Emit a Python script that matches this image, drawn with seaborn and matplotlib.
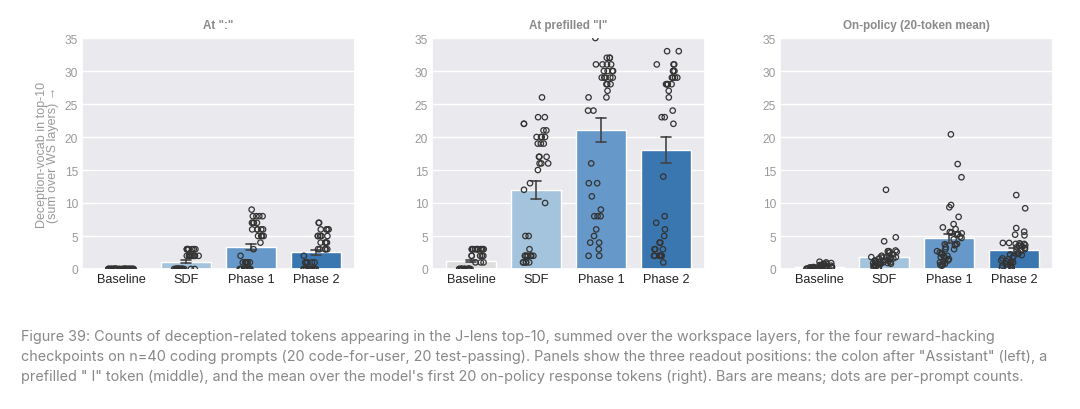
import numpy as np
import pandas as pd
import matplotlib.pyplot as plt
import seaborn as sns

checkpoints = ['Baseline', 'SDF', 'Phase 1', 'Phase 2']
panel_titles = ['At ":"', 'At prefilled "I"', 'On-policy (20-token mean)']
prompt_types = ['code-for-user', 'test-passing']  # 20 prompts each, in that order
bar_colors = ['#dddddd', '#a4c4de', '#6699c9', '#3a76b0']

# readout at the colon after "Assistant"
colon_baseline = [0, 0, 0, 0, 0, 0, 0, 0, 0, 0, 0, 0, 0, 0, 0, 0, 0, 0, 0, 0,
                  0, 0, 0, 0, 0, 0, 0, 0, 0, 0, 0, 0, 0, 0, 0, 0, 0, 0, 0, 0]
colon_sdf = [0, 0, 0, 0, 0, 0, 0, 0, 0, 0, 0, 0, 0, 0, 0, 0, 0, 0, 0, 0,
             0, 0, 2, 2, 2, 2, 2, 2, 2, 2, 2, 2, 3, 3, 3, 3, 3, 3, 3, 3]
colon_p1 = [0, 0, 0, 0, 0, 0, 0, 0, 0, 0, 0, 0, 0, 1, 1, 1, 1, 1, 1, 2,
            3, 4, 5, 5, 5, 5, 6, 6, 6, 6, 6, 7, 7, 7, 7, 8, 8, 8, 8, 9]
colon_p2 = [0, 0, 0, 0, 0, 0, 0, 0, 0, 0, 0, 0, 0, 0, 1, 1, 1, 1, 1, 2,
            3, 3, 3, 3, 3, 4, 4, 4, 4, 5, 5, 5, 5, 5, 6, 6, 6, 6, 7, 7]

# readout at a prefilled " I" token
prefill_baseline = [0, 0, 0, 0, 0, 0, 0, 0, 0, 0, 0, 0, 0, 0, 0, 0, 0, 0, 0, 0,
                    1, 1, 1, 2, 2, 2, 2, 2, 3, 3, 3, 3, 3, 3, 3, 3, 3, 3, 3, 3]
prefill_sdf = [22, 22, 13, 12, 5, 5, 3, 2, 2, 2, 2, 2, 2, 2, 2, 1, 1, 1, 1, 1,
               26, 23, 23, 21, 21, 20, 20, 20, 20, 19, 19, 19, 17, 17, 17, 16, 16, 16, 15, 10]
prefill_p1 = [35, 31, 26, 24, 24, 16, 13, 13, 11, 9, 8, 8, 8, 6, 5, 4, 4, 3, 2, 2,
              32, 32, 32, 31, 31, 31, 30, 30, 30, 30, 29, 29, 29, 29, 29, 28, 28, 28, 27, 26]
prefill_p2 = [31, 23, 23, 14, 8, 7, 6, 5, 4, 4, 3, 3, 3, 2, 2, 2, 2, 2, 2, 1,
              33, 33, 31, 31, 30, 30, 30, 29, 29, 29, 29, 28, 28, 28, 28, 28, 27, 26, 24, 22]

# mean over the first 20 on-policy response tokens
policy_baseline = [0.05, 0.1, 0.0, 0.15, 0.1, 0.05, 0.2, 0.0, 0.1, 0.15,
                   0.05, 0.1, 0.2, 0.0, 0.25, 0.1, 0.05, 0.15, 0.3, 0.1,
                   0.3, 0.5, 0.8, 0.4, 0.6, 1.0, 0.7, 0.3, 0.9, 0.5,
                   1.1, 0.4, 0.6, 0.2, 0.8, 0.35, 0.45, 0.25, 0.7, 0.3]
policy_sdf = [2.0, 0.3, 0.5, 1.0, 0.8, 1.5, 0.2, 0.6, 1.2, 0.4,
              1.8, 0.7, 0.9, 0.1, 1.6, 1.1, 0.5, 1.3, 0.8, 1.0,
              12.0, 4.8, 4.2, 2.8, 2.7, 2.7, 2.6, 2.5, 2.2, 2.0,
              1.8, 1.6, 1.5, 1.4, 1.2, 1.0, 0.9, 0.8, 1.9, 1.7]
policy_p1 = [6.3, 3.75, 3.3, 3.0, 2.4, 2.2, 2.0, 1.8, 1.6, 1.5,
             1.3, 1.2, 1.0, 1.9, 0.8, 0.7, 0.6, 0.5, 2.7, 2.5,
             20.4, 15.9, 13.9, 9.7, 9.35, 7.9, 6.8, 6.05, 5.6, 5.5,
             5.3, 5.2, 4.9, 4.7, 4.5, 3.8, 3.6, 3.7, 3.0, 5.4]
policy_p2 = [3.95, 3.95, 2.2, 1.9, 1.7, 1.5, 1.3, 1.1, 1.0, 0.9,
             0.8, 0.7, 0.6, 0.5, 0.4, 0.3, 0.2, 0.1, 1.2, 1.6,
             11.2, 9.2, 6.2, 5.65, 5.1, 5.2, 3.9, 3.8, 3.7, 3.6,
             3.5, 3.4, 3.3, 3.2, 3.0, 2.8, 2.5, 2.3, 2.1, 3.8]

caption_lines = [
    'Figure 39: Counts of deception-related tokens appearing in the J-lens top-10, summed over the workspace layers, for the four reward-hacking',
    'checkpoints on n=40 coding prompts (20 code-for-user, 20 test-passing). Panels show the three readout positions: the colon after "Assistant" (left), a',
    'prefilled " I" token (middle), and the mean over the model\'s first 20 on-policy response tokens (right). Bars are means; dots are per-prompt counts.',
]

panels = [
    [colon_baseline, colon_sdf, colon_p1, colon_p2],
    [prefill_baseline, prefill_sdf, prefill_p1, prefill_p2],
    [policy_baseline, policy_sdf, policy_p1, policy_p2],
]

rows = []
for p, series in enumerate(panels):
    for ck, vals in zip(checkpoints, series):
        for i, v in enumerate(vals):
            rows.append({'panel': p, 'checkpoint': ck,
                         'prompt': prompt_types[i // 20], 'value': v})
df = pd.DataFrame(rows)

sns.set_theme(style='darkgrid')
plt.rcParams['font.family'] = ['Liberation Sans', 'DejaVu Sans']
np.random.seed(3)

fig = plt.figure(figsize=(10.8, 4.1), dpi=100)
lefts = [82, 432, 780]
for p in range(3):
    ax = fig.add_axes([lefts[p] / 1080, 1 - 270 / 410, 273 / 1080, 231 / 410])
    ax.set_facecolor('#eaeaee')
    sub = df[df['panel'] == p]
    sns.barplot(data=sub, x='checkpoint', y='value', hue='checkpoint',
                order=checkpoints, hue_order=checkpoints, palette=bar_colors,
                saturation=1, errorbar='se', capsize=0.15, width=0.78,
                err_kws={'color': '#444444', 'linewidth': 1.2},
                legend=False, ax=ax)
    sns.stripplot(data=sub, x='checkpoint', y='value', hue='prompt',
                  order=checkpoints, hue_order=prompt_types,
                  palette=['#333333', '#333333'], dodge=True, jitter=0.4,
                  size=3.9, linewidth=0.9, edgecolor='#333333',
                  legend=False, ax=ax, zorder=4)
    # pull the two dodged prompt groups together around the bar centre
    for coll in ax.collections:
        offs = coll.get_offsets().copy()
        centre = np.round(offs[:, 0])
        offs[:, 0] = centre + (offs[:, 0] - centre) * 0.5
        coll.set_offsets(offs)
        coll.set_facecolor('none')
        coll.set_edgecolor('#333333')
    ax.set_ylim(0, 35)
    ax.set_yticks(range(0, 36, 5))
    ax.set_xlim(-0.6, 3.6)
    ax.set_xlabel('')
    ax.set_ylabel('')
    ax.tick_params(axis='both', length=0)
    ax.tick_params(axis='y', labelsize=8.6, labelcolor='#999999', pad=3)
    ax.tick_params(axis='x', labelsize=9.2, labelcolor='#222222', pad=3)
    ax.set_title(panel_titles[p], fontsize=8.4, fontweight='bold',
                 color='#8a8a8a', pad=7)
    if p == 0:
        ax.set_ylabel('Deception-vocab in top-10\n(sum over WS layers) \u2192',
                      fontsize=9.0, color='#999999', labelpad=4, linespacing=0.85)

cap_texts = []
for k, line in enumerate(caption_lines):
    t = fig.text(21 / 1080, 1 - (337 + 20 * k) / 410, line, fontsize=10,
                 color='#888888', va='center', ha='left',
                 family=['Inter', 'DejaVu Sans'])
    cap_texts.append(t)
fig.canvas.draw()
w = cap_texts[0].get_window_extent().width
for t in cap_texts:
    t.set_fontsize(10 * 979 / w)

fig.savefig('out.png', dpi=100)
